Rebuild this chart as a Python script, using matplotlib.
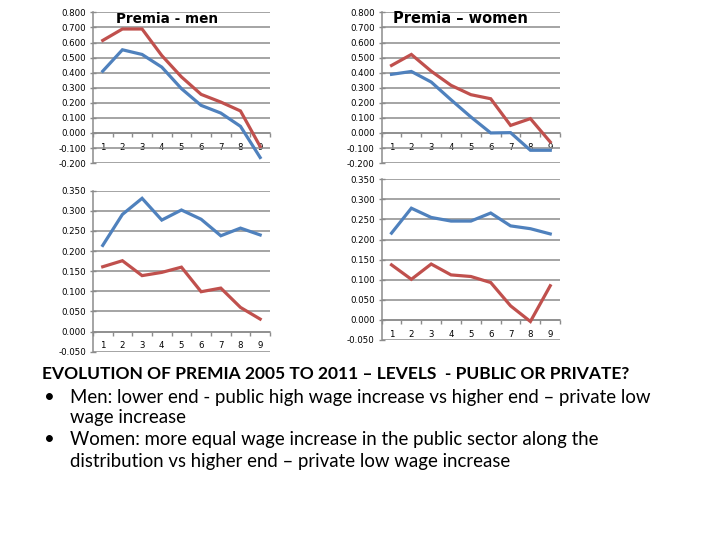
import matplotlib
matplotlib.use("Agg")
import matplotlib.pyplot as plt
from matplotlib.ticker import FormatStrFormatter, FixedLocator

categories = [1, 2, 3, 4, 5, 6, 7, 8, 9]

men_red = [0.614, 0.690, 0.690, 0.514, 0.372, 0.256, 0.205, 0.146, -0.090]
men_blue = [0.410, 0.552, 0.521, 0.437, 0.294, 0.183, 0.132, 0.044, -0.163]

women_red = [0.448, 0.521, 0.410, 0.316, 0.254, 0.227, 0.050, 0.095, -0.060]
women_blue = [0.389, 0.408, 0.338, 0.220, 0.106, 0.000, 0.002, -0.115, -0.115]

men_blue_b = [0.214, 0.291, 0.331, 0.277, 0.302, 0.279, 0.238, 0.257, 0.240]
men_red_b = [0.161, 0.176, 0.139, 0.147, 0.160, 0.099, 0.108, 0.060, 0.031]

women_blue_b = [0.216, 0.278, 0.255, 0.246, 0.246, 0.266, 0.234, 0.227, 0.214]
women_red_b = [0.137, 0.101, 0.139, 0.112, 0.108, 0.093, 0.035, -0.004, 0.085]

top_ticks = [-0.2, -0.1, 0.0, 0.1, 0.2, 0.3, 0.4, 0.5, 0.6, 0.7, 0.8]
bottom_ticks = [-0.05, 0.0, 0.05, 0.10, 0.15, 0.20, 0.25, 0.30, 0.35]

RED = "#C0504D"
BLUE = "#4F81BD"
GRID = "#8C8C8C"

fig = plt.figure(figsize=(7.2, 5.4), dpi=100)


def make_axes(rect, red, blue, yticks, title=None, title_x=None, title_fs=10):
    ax = fig.add_axes(rect)
    ax.plot(categories, blue, color=BLUE, lw=2.3, solid_joinstyle="miter", zorder=3)
    ax.plot(categories, red, color=RED, lw=2.3, solid_joinstyle="miter", zorder=3)
    ax.set_xlim(0.5, 9.5)
    ax.set_ylim(yticks[0], yticks[-1])
    ax.set_yticks(yticks)
    ax.yaxis.set_major_formatter(FormatStrFormatter("%.3f"))
    ax.grid(axis="y", color=GRID, lw=1.1)
    ax.set_axisbelow(True)
    for s in ("top", "right"):
        ax.spines[s].set_visible(False)
    ax.spines["left"].set_color(GRID)
    ax.spines["left"].set_linewidth(1.1)
    ax.spines["bottom"].set_position(("data", 0))
    ax.spines["bottom"].set_color(GRID)
    ax.spines["bottom"].set_linewidth(1.1)
    ax.set_xticks(categories)
    ax.set_xticklabels([str(c) for c in categories])
    ax.xaxis.set_minor_locator(FixedLocator([i + 0.5 for i in range(0, 10)]))
    ax.tick_params(axis="x", which="major", length=0, pad=7, labelsize=6.2)
    ax.tick_params(axis="x", which="minor", length=3, color=GRID, width=1)
    ax.tick_params(axis="y", which="major", length=4, direction="inout",
                   color=GRID, width=1, labelsize=6.2, pad=3)
    if title:
        ax.text(title_x, 0.957, title, transform=ax.transAxes, fontsize=title_fs,
                weight="bold", ha="center", va="center", family="DejaVu Sans")
    return ax


make_axes([0.129, 0.698, 0.246, 0.279], men_red, men_blue, top_ticks,
          "Premia - men", 0.42, 9.8)
make_axes([0.530, 0.698, 0.248, 0.279], women_red, women_blue, top_ticks,
          "Premia \u2013 women", 0.44, 10.5)
make_axes([0.129, 0.3487, 0.246, 0.2982], men_red_b, men_blue_b, bottom_ticks)
make_axes([0.530, 0.3704, 0.248, 0.2976], women_red_b, women_blue_b, bottom_ticks)

fig.text(42 / 720, 1 - 374 / 540,
         "EVOLUTION OF PREMIA 2005 TO 2011 \u2013 LEVELS  - PUBLIC OR PRIVATE?",
         family="Lato", weight="bold", fontsize=12.5, va="center", ha="left")
fs = 13.4
lines = [
    (398, True, "Men: lower end - public high wage increase vs higher end \u2013 private low"),
    (417, False, "wage increase"),
    (440, True, "Women: more equal wage increase in the public sector along the"),
    (461, False, "distribution vs higher end \u2013 private low wage increase"),
]
for y, bullet, txt in lines:
    if bullet:
        fig.text(44 / 720, 1 - y / 540, "\u2022", family="Lato", fontsize=fs,
                 va="center", ha="left")
    fig.text(70 / 720, 1 - y / 540, txt, family="Lato", fontsize=fs,
             va="center", ha="left")

fig.savefig("out.png", dpi=100)
